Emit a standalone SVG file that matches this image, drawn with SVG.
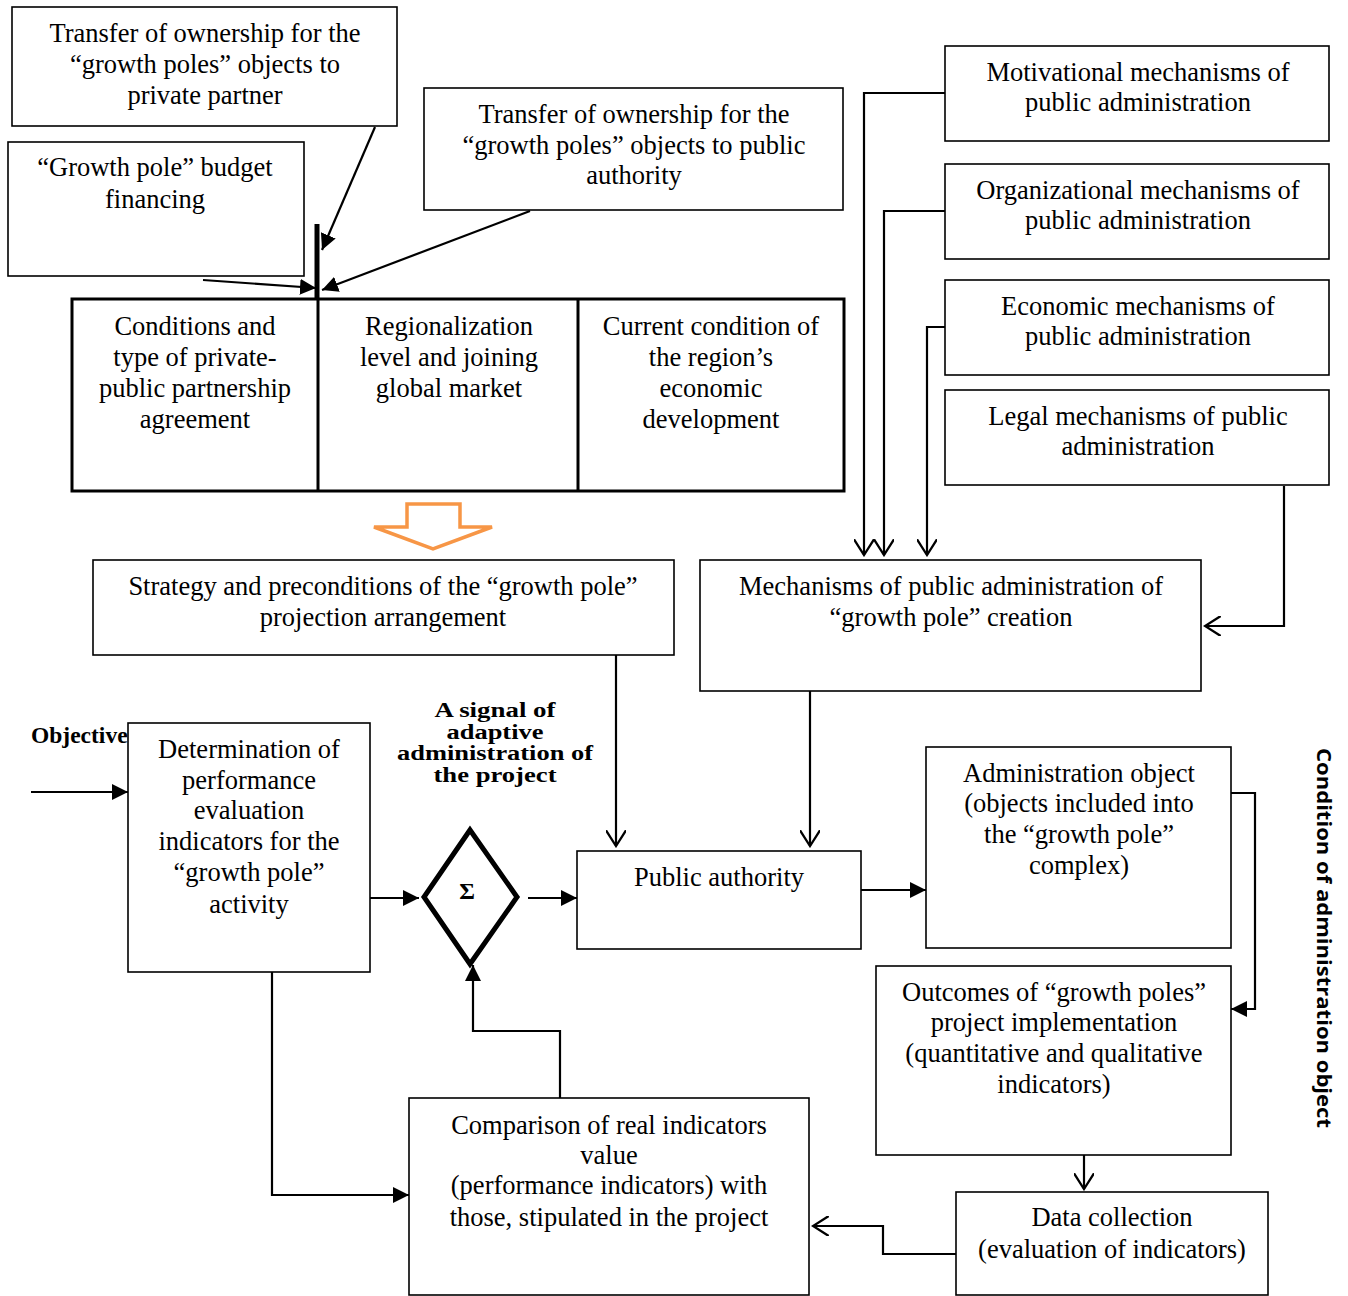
<svg xmlns="http://www.w3.org/2000/svg" width="1348" height="1296" viewBox="0 0 1348 1296">
<style>
.b{fill:#fff;stroke:#000;stroke-width:1.6}
.t{font-family:"Liberation Serif","Times New Roman",serif;font-size:26.5px;fill:#000;text-anchor:middle}
.c{fill:none;stroke:#000;stroke-width:2.2}
.sig{font-family:"Liberation Serif","Times New Roman",serif;font-size:20.5px;font-weight:bold;fill:#000;text-anchor:middle}
</style>
<defs>
<marker id="fa" viewBox="0 0 10 10" refX="10" refY="5" markerWidth="16" markerHeight="16" markerUnits="userSpaceOnUse" orient="auto">
<path d="M0,0 L10,5 L0,10 z" fill="#000"/>
</marker>
<marker id="o" viewBox="0 0 12 14" refX="11" refY="7" markerWidth="18" markerHeight="20" markerUnits="userSpaceOnUse" orient="auto">
<path d="M0,0 L11,7 L0,14" fill="none" stroke="#000" stroke-width="1.6"/>
</marker>
</defs>

<g id="n-transfer-private">
<rect class="b" x="12" y="7" width="385" height="119"/>
<text class="t" x="205" y="42">Transfer of ownership for the</text>
<text class="t" x="205" y="73">“growth poles” objects to</text>
<text class="t" x="205" y="104">private partner</text>
</g>
<g id="n-budget">
<rect class="b" x="8" y="142" width="296" height="134"/>
<text class="t" x="155" y="176">“Growth pole” budget</text>
<text class="t" x="155" y="208">financing</text>
</g>
<g id="n-transfer-public">
<rect class="b" x="424" y="88" width="419" height="122"/>
<text class="t" x="634" y="123">Transfer of ownership for the</text>
<text class="t" x="634" y="154">“growth poles” objects to public</text>
<text class="t" x="634" y="184">authority</text>
</g>

<g id="n-conditions">
<rect x="72" y="299" width="772" height="192" fill="#fff" stroke="#000" stroke-width="3"/>
<line x1="318" y1="299" x2="318" y2="491" stroke="#000" stroke-width="3"/>
<line x1="578" y1="299" x2="578" y2="491" stroke="#000" stroke-width="3"/>
<text class="t" x="195" y="335">Conditions and</text>
<text class="t" x="195" y="366">type of private-</text>
<text class="t" x="195" y="397">public partnership</text>
<text class="t" x="195" y="428">agreement</text>
<text class="t" x="449" y="335">Regionalization</text>
<text class="t" x="449" y="366">level and joining</text>
<text class="t" x="449" y="397">global market</text>
<text class="t" x="711" y="335">Current condition of</text>
<text class="t" x="711" y="366">the region’s</text>
<text class="t" x="711" y="397">economic</text>
<text class="t" x="711" y="428">development</text>
</g>

<g id="n-bar">
<line x1="317" y1="224" x2="317" y2="299" stroke="#000" stroke-width="5"/>
</g>

<g id="n-orange-arrow">
<path d="M407,504 L460,504 L460,527 L492,527 L433,549 L374,527 L407,527 Z" fill="#fff" stroke="#F79646" stroke-width="3.5" stroke-linejoin="miter"/>
</g>

<g id="n-strategy">
<rect class="b" x="93" y="560" width="581" height="95"/>
<text class="t" x="383" y="595">Strategy and preconditions of the “growth pole”</text>
<text class="t" x="383" y="626">projection arrangement</text>
</g>

<g id="n-motivational">
<rect class="b" x="945" y="46" width="384" height="95"/>
<text class="t" x="1138" y="81">Motivational mechanisms of</text>
<text class="t" x="1138" y="111">public administration</text>
</g>
<g id="n-organizational">
<rect class="b" x="945" y="164" width="384" height="95"/>
<text class="t" x="1138" y="199">Organizational mechanisms of</text>
<text class="t" x="1138" y="229">public administration</text>
</g>
<g id="n-economic">
<rect class="b" x="945" y="280" width="384" height="95"/>
<text class="t" x="1138" y="315">Economic mechanisms of</text>
<text class="t" x="1138" y="345">public administration</text>
</g>
<g id="n-legal">
<rect class="b" x="945" y="390" width="384" height="95"/>
<text class="t" x="1138" y="425">Legal mechanisms of public</text>
<text class="t" x="1138" y="455">administration</text>
</g>

<g id="n-mechanisms">
<rect class="b" x="700" y="560" width="501" height="131"/>
<text class="t" x="951" y="595">Mechanisms of public administration of</text>
<text class="t" x="951" y="626">“growth pole” creation</text>
</g>

<g id="n-objective-label">
<text x="31" y="743" font-family="Liberation Serif,Times New Roman,serif" font-size="23.5" font-weight="bold">Objective</text>
</g>

<g id="n-determination">
<rect class="b" x="128" y="723" width="242" height="249"/>
<text class="t" x="249" y="758">Determination of</text>
<text class="t" x="249" y="789">performance</text>
<text class="t" x="249" y="819">evaluation</text>
<text class="t" x="249" y="850">indicators for the</text>
<text class="t" x="249" y="881">“growth pole”</text>
<text class="t" x="249" y="913">activity</text>
</g>

<g id="n-signal-label">
<text class="sig" x="495" y="717" textLength="121" lengthAdjust="spacingAndGlyphs">A signal of</text>
<text class="sig" x="495" y="739" textLength="97" lengthAdjust="spacingAndGlyphs">adaptive</text>
<text class="sig" x="495" y="760" textLength="196" lengthAdjust="spacingAndGlyphs">administration of</text>
<text class="sig" x="495" y="782" textLength="123" lengthAdjust="spacingAndGlyphs">the project</text>
</g>

<g id="n-sum">
<path d="M470,830 L517,897 L470,964 L424,897 Z" fill="#fff" stroke="#000" stroke-width="5" stroke-linejoin="miter"/>
<text x="467" y="899" font-family="Liberation Serif,Times New Roman,serif" font-size="24" font-weight="bold" text-anchor="middle">Σ</text>
</g>

<g id="n-public-authority">
<rect class="b" x="577" y="851" width="284" height="98"/>
<text class="t" x="719" y="886">Public authority</text>
</g>

<g id="n-admin-object">
<rect class="b" x="926" y="747" width="305" height="201"/>
<text class="t" x="1079" y="782">Administration object</text>
<text class="t" x="1079" y="812">(objects included into</text>
<text class="t" x="1079" y="843">the “growth pole”</text>
<text class="t" x="1079" y="874">complex)</text>
</g>

<g id="n-outcomes">
<rect class="b" x="876" y="966" width="355" height="189"/>
<text class="t" x="1054" y="1001">Outcomes of “growth poles”</text>
<text class="t" x="1054" y="1031">project implementation</text>
<text class="t" x="1054" y="1062">(quantitative and qualitative</text>
<text class="t" x="1054" y="1093">indicators)</text>
</g>

<g id="n-data">
<rect class="b" x="956" y="1192" width="312" height="103"/>
<text class="t" x="1112" y="1226">Data collection</text>
<text class="t" x="1112" y="1258">(evaluation of indicators)</text>
</g>

<g id="n-comparison">
<rect class="b" x="409" y="1098" width="400" height="197"/>
<text class="t" x="609" y="1134">Comparison of real indicators</text>
<text class="t" x="609" y="1164">value</text>
<text class="t" x="609" y="1194">(performance indicators) with</text>
<text class="t" x="609" y="1226">those, stipulated in the project</text>
</g>

<g id="n-condition-label">
<text transform="translate(1317,938) rotate(90)" font-family="'Open Sans','Noto Sans',sans-serif" font-size="20" font-weight="bold" text-anchor="middle" textLength="380" lengthAdjust="spacingAndGlyphs">Condition of administration object</text>
</g>

<g id="connectors">
<line class="c" x1="375" y1="127" x2="322" y2="250" marker-end="url(#fa)"/>
<line class="c" x1="530" y1="211" x2="322" y2="290" marker-end="url(#fa)"/>
<line class="c" x1="203" y1="280" x2="316" y2="288" marker-end="url(#fa)"/>

<polyline class="c" points="945,93 864,93 864,555" marker-end="url(#o)"/>
<polyline class="c" points="945,211 884,211 884,555" marker-end="url(#o)"/>
<polyline class="c" points="945,327 927,327 927,555" marker-end="url(#o)"/>
<polyline class="c" points="1284,486 1284,626 1205,626" marker-end="url(#o)"/>

<line class="c" x1="616" y1="655" x2="616" y2="846" marker-end="url(#o)"/>
<line class="c" x1="810" y1="691" x2="810" y2="846" marker-end="url(#o)"/>

<line class="c" x1="31" y1="792" x2="128" y2="792" marker-end="url(#fa)"/>
<line class="c" x1="370" y1="898" x2="419" y2="898" marker-end="url(#fa)"/>
<line class="c" x1="528" y1="898" x2="577" y2="898" marker-end="url(#fa)"/>
<line class="c" x1="861" y1="890" x2="926" y2="890" marker-end="url(#fa)"/>

<polyline class="c" points="1231,793 1255,793 1255,1009 1231,1009" marker-end="url(#fa)"/>
<line class="c" x1="1084" y1="1155" x2="1084" y2="1189" marker-end="url(#o)"/>
<polyline class="c" points="956,1254 883,1254 883,1226 813,1226" marker-end="url(#o)"/>

<polyline class="c" points="560,1098 560,1031 473,1031 473,965" marker-end="url(#fa)"/>
<polyline class="c" points="272,972 272,1195 409,1195" marker-end="url(#fa)"/>
</g>
</svg>
